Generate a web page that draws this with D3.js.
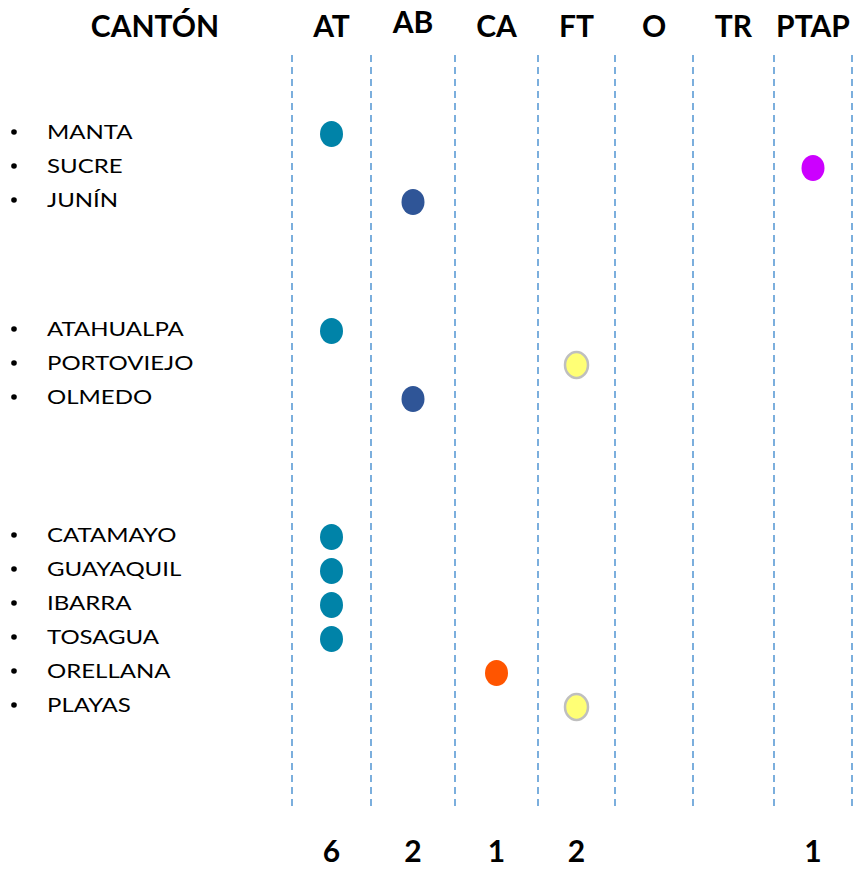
<!DOCTYPE html>
<html>
<head>
<meta charset="utf-8">
<script src="https://cdn.jsdelivr.net/npm/d3@7"></script>
<style>
  body { margin: 0; background: #fff; }
  text { font-family: Lato, "Open Sans", sans-serif; }
</style>
</head>
<body>
<div id="chart"></div>
<script>
const width = 856
const height = 871

// columns of the table
const columns = ["AT", "AB", "CA", "FT", "O", "TR", "PTAP"]
const columnColors = ["#0083a8", "#2f5597", "#ff5500", "#ffff75", "#999", "#999", "#cc00ff"]

// cantones, in three groups
const group1 = ["MANTA", "SUCRE", "JUNÍN"]
const group2 = ["ATAHUALPA", "PORTOVIEJO", "OLMEDO"]
const group3 = ["CATAMAYO", "GUAYAQUIL", "IBARRA", "TOSAGUA", "ORELLANA", "PLAYAS"]

// which column each canton is marked in
const marks = [
    ["MANTA", "AT"], ["SUCRE", "PTAP"], ["JUNÍN", "AB"],
    ["ATAHUALPA", "AT"], ["PORTOVIEJO", "FT"], ["OLMEDO", "AB"],
    ["CATAMAYO", "AT"], ["GUAYAQUIL", "AT"], ["IBARRA", "AT"],
    ["TOSAGUA", "AT"], ["ORELLANA", "CA"], ["PLAYAS", "FT"]
]

const groups = [group1, group2, group3]
const groupTop = [132, 329, 535]
const rowStep = 34

const rowY = {}
groups.forEach((g, gi) => g.forEach((name, i) => {
    rowY[name] = groupTop[gi] + i * rowStep
}))

// column boundaries (the dashed lines)
const edges = [292, 371, 455, 538, 615, 693, 774, 852]
const x = d3.scaleOrdinal()
    .domain(columns)
    .range(columns.map((c, i) => (edges[i] + edges[i + 1]) / 2))

const color = d3.scaleOrdinal().domain(columns).range(columnColors)

const svg = d3.select("#chart").append("svg")
    .attr("width", width)
    .attr("height", height)

svg.selectAll(".sep")
    .data(edges)
    .enter()
    .append("line")
    .attr("class", "sep")
    .attr("x1", d => d).attr("x2", d => d)
    .attr("y1", 55).attr("y2", 810)
    .attr("stroke", "#5b9bd5")
    .attr("stroke-width", 1.6)
    .attr("stroke-dasharray", "7,5")

// headers
svg.append("text")
    .attr("x", 155).attr("y", 37)
    .attr("text-anchor", "middle")
    .attr("font-size", 30)
    .attr("font-weight", "bold")
    .text("CANTÓN")

svg.selectAll(".head")
    .data(columns)
    .enter()
    .append("text")
    .attr("class", "head")
    .attr("x", d => x(d))
    .attr("y", d => d === "AB" ? 33 : 37)
    .attr("text-anchor", "middle")
    .attr("font-size", 30)
    .attr("font-weight", "bold")
    .text(d => d)

// canton labels
const names = [].concat(...groups)
const rows = svg.selectAll(".row")
    .data(names)
    .enter()
    .append("g")
    .attr("class", "row")
    .attr("transform", d => `translate(0,${rowY[d]})`)

rows.append("circle")
    .attr("cx", 14).attr("cy", 0).attr("r", 2.8)
    .attr("fill", "#000")

rows.append("text")
    .attr("transform", "translate(47,7) scale(1.2,1)")
    .attr("font-size", 20)
    .text(d => d)

// dots
svg.selectAll(".dot")
    .data(marks)
    .enter()
    .append("ellipse")
    .attr("class", "dot")
    .attr("cx", d => x(d[1]))
    .attr("cy", d => rowY[d[0]] + 2)
    .attr("rx", 11.5)
    .attr("ry", 13)
    .attr("fill", d => color(d[1]))
    .attr("stroke", d => d[1] === "FT" ? "#bfbfbf" : "none")
    .attr("stroke-width", 2.5)

// totals
const counts = d3.rollup(marks, v => v.length, d => d[1])
svg.selectAll(".total")
    .data(columns.filter(c => counts.get(c)))
    .enter()
    .append("text")
    .attr("class", "total")
    .attr("x", d => x(d))
    .attr("y", 862)
    .attr("text-anchor", "middle")
    .attr("font-size", 30)
    .attr("font-weight", "bold")
    .text(d => counts.get(d))
</script>
</body>
</html>
